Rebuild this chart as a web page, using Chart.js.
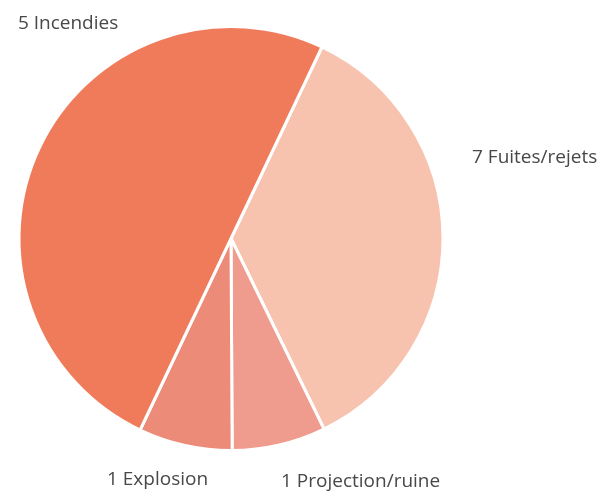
<!DOCTYPE html>
<html>
<head>
<meta charset="utf-8">
<script src="https://cdn.jsdelivr.net/npm/chart.js@4/dist/chart.umd.min.js"></script>
<style>
  html, body { margin: 0; padding: 0; background: #fff; }
  #wrap { width: 598px; height: 493px; }
</style>
</head>
<body>
<div id="wrap"><canvas id="pieChart"></canvas></div>
<script>
// données (ordre horaire depuis la frontière en haut à droite)
var categories = ['7 Fuites/rejets', '1 Projection/ruine', '1 Explosion', '5 Incendies'];
var sliceValues = [5, 1, 1, 7];
var sliceColors = ['#F8C3AE', '#EF9C8F', '#EC8B78', '#EF7B5B'];

// position des étiquettes, en rayons par rapport au centre (x = bord gauche du texte)
var labelPos = [
    { x: 1.137, y: -0.383 },
    { x: 0.236, y: 1.147 },
    { x: -0.585, y: 1.136 },
    { x: -1.005, y: -1.014 }
];

var outsideLabels = {
    id: 'outsideLabels',
    afterDraw: function(chart) {
        var ctx = chart.ctx;
        var arc = chart.getDatasetMeta(0).data[0];
        if (!arc) return;
        var cx = arc.x, cy = arc.y, r = arc.outerRadius;
        ctx.save();
        ctx.font = '19px "Open Sans", "Noto Sans", sans-serif';
        ctx.fillStyle = '#484848';
        ctx.textAlign = 'left';
        ctx.textBaseline = 'middle';
        chart.data.labels.forEach(function(label, i) {
            ctx.fillText(label, cx + labelPos[i].x * r, cy + labelPos[i].y * r);
        });
        ctx.restore();
    }
};

document.addEventListener('DOMContentLoaded', function() {
    var ctx = document.getElementById('pieChart').getContext('2d');
    new Chart(ctx, {
        type: 'pie',
        data: {
            labels: categories,
            datasets: [{
                data: sliceValues,
                backgroundColor: sliceColors,
                borderColor: '#ffffff',
                borderWidth: 3
            }]
        },
        options: {
            responsive: true,
            maintainAspectRatio: false,
            animation: false,
            rotation: 25.4,
            layout: {
                padding: { left: 17, top: 25, right: 153, bottom: 41 }
            },
            plugins: {
                legend: { display: false },
                tooltip: { enabled: false }
            }
        },
        plugins: [outsideLabels]
    });
});
</script>
</body>
</html>
